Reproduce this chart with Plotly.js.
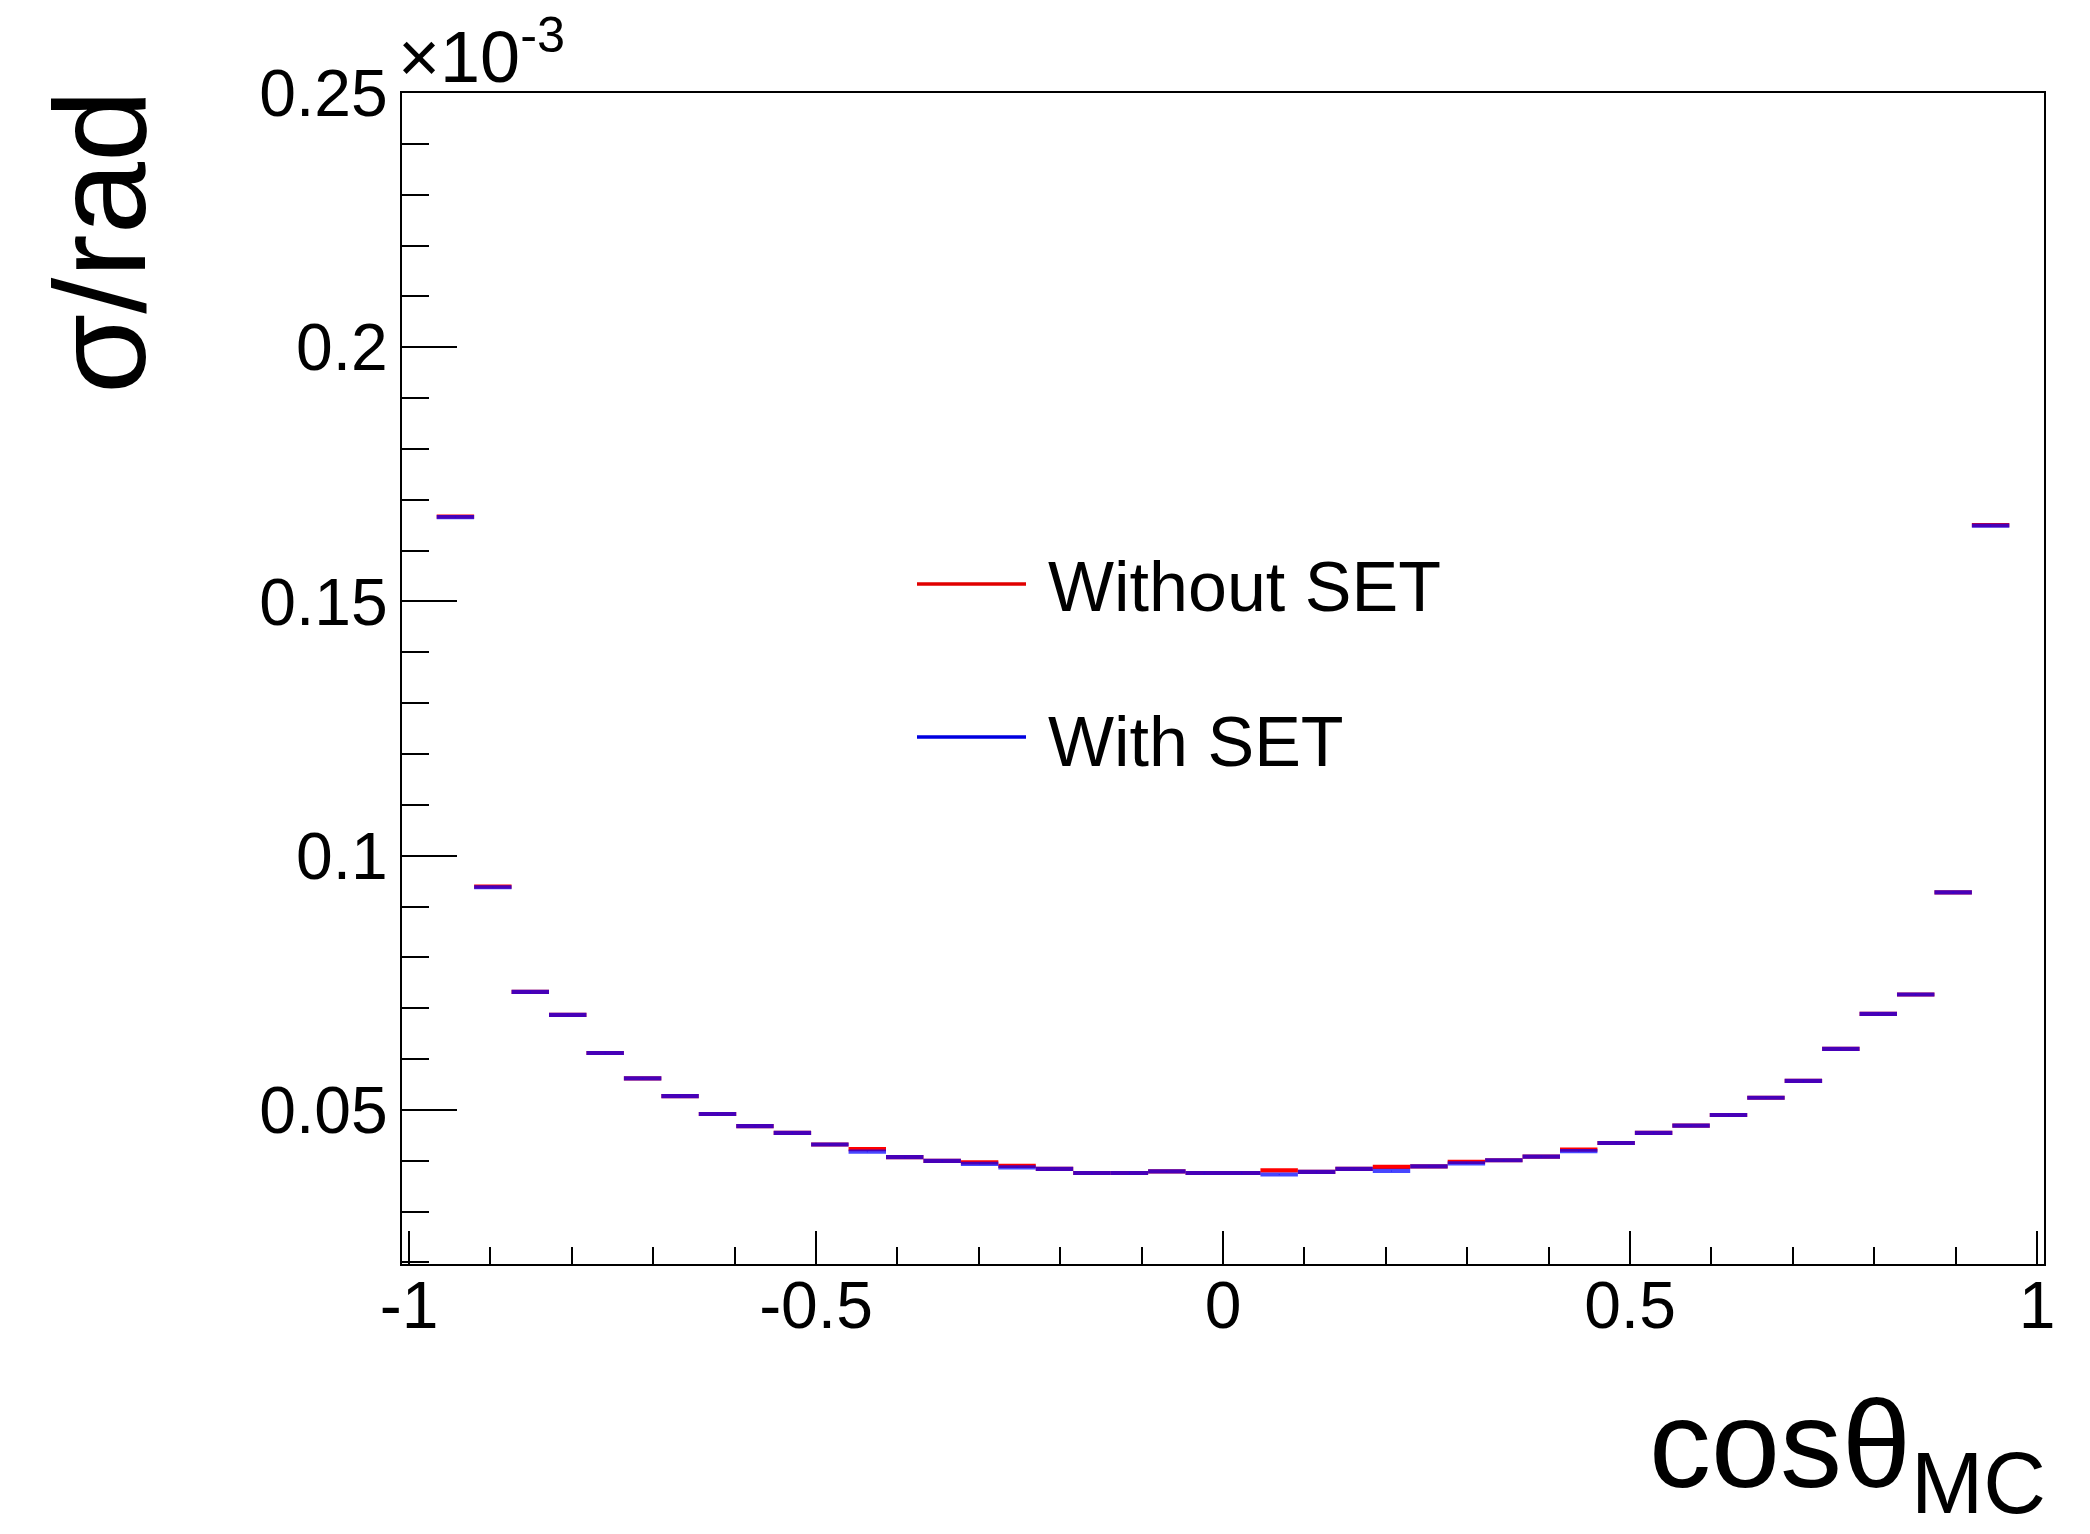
<!DOCTYPE html>
<html>
<head>
<meta charset="utf-8">
<script src="https://cdn.plot.ly/plotly-3.0.1.min.js"></script>
<style>
  html, body { margin: 0; padding: 0; background: #ffffff; }
  #chart { width: 2090px; height: 1534px; }
</style>
</head>
<body>
<div id="chart"></div>
<script>
// cos(theta_MC) bin centres (42 bins, width 0.046, from -0.966 to 0.966)
const binCenters = [
  -0.943, -0.897, -0.851, -0.805, -0.759, -0.713, -0.667, -0.621, -0.575, -0.529,
  -0.483, -0.437, -0.391, -0.345, -0.299, -0.253, -0.207, -0.161, -0.115, -0.069,
  -0.023,  0.023,  0.069,  0.115,  0.161,  0.207,  0.253,  0.299,  0.345,  0.391,
   0.437,  0.483,  0.529,  0.575,  0.621,  0.667,  0.713,  0.759,  0.805,  0.851,
   0.897,  0.943
];
const binHalfWidth = 0.023;

// sigma / rad, in units of 1e-3
const withoutSET = [
  0.1667, 0.0939, 0.0732, 0.0687, 0.0612, 0.0562, 0.0527, 0.0492, 0.0468, 0.0455,
  0.0432, 0.0423, 0.0407, 0.0400, 0.0397, 0.0390, 0.0384, 0.0376, 0.0376, 0.0379,
  0.0376, 0.0376, 0.0381, 0.0378, 0.0384, 0.0388, 0.0389, 0.0398, 0.0401, 0.0408,
  0.0422, 0.0435, 0.0455, 0.0469, 0.0490, 0.0524, 0.0557, 0.0620, 0.0689, 0.0727,
  0.0928, 0.1650
];
const withSET = [
  0.1666, 0.0938, 0.0732, 0.0687, 0.0612, 0.0562, 0.0527, 0.0492, 0.0468, 0.0455,
  0.0432, 0.0418, 0.0407, 0.0400, 0.0394, 0.0387, 0.0384, 0.0376, 0.0376, 0.0379,
  0.0376, 0.0376, 0.0373, 0.0378, 0.0384, 0.0380, 0.0389, 0.0395, 0.0401, 0.0408,
  0.0419, 0.0435, 0.0455, 0.0469, 0.0490, 0.0524, 0.0557, 0.0620, 0.0689, 0.0727,
  0.0928, 0.1649
];

const seriesNames = ['Without SET', 'With SET'];
const seriesColors = ['#ff0000', 'rgba(0,0,255,0.72)'];
const legendColors = ['#e00000', '#0000e0'];

const xTickVals = [-1, -0.5, 0, 0.5, 1];
const xTickText = ['-1', '-0.5', '0', '0.5', '1'];
const yTickVals = [0.05, 0.1, 0.15, 0.2, 0.25];
const yTickText = ['0.05', '0.1', '0.15', '0.2', '0.25'];

const W = 2090, H = 1534;
const M = { l: 402, r: 46, t: 93, b: 270 };
const PW = W - M.l - M.r, PH = H - M.t - M.b;
const px2x = p => (p - M.l) / PW;
const px2y = p => (H - M.b - p) / PH;

const FONT = 'Liberation Sans, Arial, Helvetica, sans-serif';

function histTrace(vals, name, color) {
  return {
    type: 'scatter',
    mode: 'markers',
    x: binCenters,
    y: vals,
    name: name,
    showlegend: false,
    marker: { size: 1, color: color },
    error_x: { type: 'constant', value: binHalfWidth, width: 0, thickness: 4.2, color: color },
    hoverinfo: 'x+y+name'
  };
}

const data = [
  histTrace(withoutSET, seriesNames[0], seriesColors[0]),
  histTrace(withSET, seriesNames[1], seriesColors[1])
];

const layout = {
  width: W, height: H,
  margin: M,
  paper_bgcolor: '#ffffff',
  plot_bgcolor: '#ffffff',
  showlegend: false,
  font: { family: FONT, color: '#000000', size: 66 },
  xaxis: {
    range: [-1.0086, 1.0086],
    tickmode: 'array', tickvals: xTickVals, ticktext: xTickText,
    ticks: 'inside', ticklen: 33, tickwidth: 2, tickcolor: '#000',
    minor: { tickmode: 'linear', tick0: 0, dtick: 0.1, ticks: 'inside', ticklen: 17, tickwidth: 2, tickcolor: '#000' },
    showgrid: false, zeroline: false,
    showline: true, linecolor: '#000', linewidth: 2, mirror: true,
    tickfont: { family: FONT, size: 66, color: '#000' },
    ticklabelstandoff: -17
  },
  yaxis: {
    range: [0.0197, 0.25],
    tickmode: 'array', tickvals: yTickVals, ticktext: yTickText,
    ticks: 'inside', ticklen: 55, tickwidth: 2, tickcolor: '#000',
    minor: { tickmode: 'linear', tick0: 0, dtick: 0.01, ticks: 'inside', ticklen: 27, tickwidth: 2, tickcolor: '#000' },
    showgrid: false, zeroline: false,
    showline: true, linecolor: '#000', linewidth: 2, mirror: true,
    tickfont: { family: FONT, size: 66, color: '#000' },
    ticklabelstandoff: -1
  },
  shapes: [
    { type: 'line', xref: 'paper', yref: 'paper', x0: px2x(917), x1: px2x(1026), y0: px2y(584), y1: px2y(584),
      line: { color: legendColors[0], width: 3.5 } },
    { type: 'line', xref: 'paper', yref: 'paper', x0: px2x(917), x1: px2x(1026), y0: px2y(737), y1: px2y(737),
      line: { color: legendColors[1], width: 3.5 } }
  ],
  annotations: [
    { text: seriesNames[0], xref: 'paper', yref: 'paper', x: px2x(1046), y: px2y(587),
      xanchor: 'left', yanchor: 'middle', showarrow: false, font: { family: FONT, size: 70, color: '#000' } },
    { text: seriesNames[1], xref: 'paper', yref: 'paper', x: px2x(1046), y: px2y(742),
      xanchor: 'left', yanchor: 'middle', showarrow: false, font: { family: FONT, size: 70, color: '#000' } },
    { text: '\u00d710<sup>-3</sup>', xref: 'paper', yref: 'paper', x: px2x(396), y: px2y(99),
      xanchor: 'left', yanchor: 'bottom', showarrow: false, font: { family: FONT, size: 72, color: '#000' } },
    { text: '\u03c3/rad', xref: 'paper', yref: 'paper', x: px2x(100), y: px2y(88),
      xanchor: 'center', yanchor: 'top', textangle: -90, showarrow: false,
      font: { family: FONT, size: 130, color: '#000' } },
    { text: 'cos\u03b8<sub>MC</sub>', xref: 'paper', yref: 'paper', x: px2x(2048), y: px2y(1533),
      xanchor: 'right', yanchor: 'bottom', showarrow: false,
      font: { family: FONT, size: 124, color: '#000' } }
  ]
};

Plotly.newPlot('chart', data, layout, { displayModeBar: false, responsive: false });
</script>
</body>
</html>
